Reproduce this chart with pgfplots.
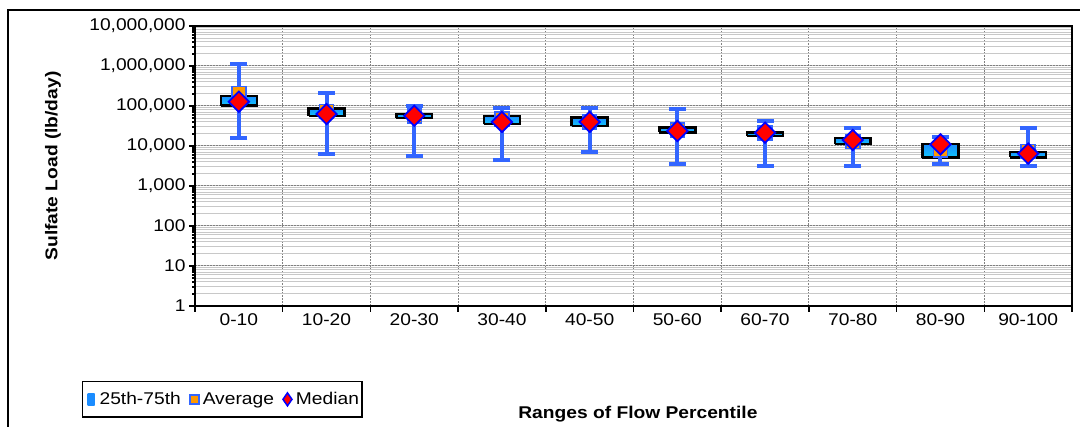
\documentclass[border=0pt]{standalone}
\usepackage{fontspec}
\setmainfont{Liberation Sans}[FakeStretch=1.13]
\usepackage{pgfplots}
\usepackage{pgfplotstable}
\pgfplotsset{compat=1.18}
\definecolor{whisk}{HTML}{3366FF}
\definecolor{boxc}{HTML}{10C8FA}
\definecolor{boxtop}{HTML}{1A8CFF}
\definecolor{avgc}{HTML}{FF9900}
\definecolor{gmaj}{HTML}{808080}
\definecolor{gmin}{HTML}{C8C8C8}

% sulfate load by flow percentile range (lb/day): average and median
\pgfplotstableread{
x  avg    med
1  205000 128000
2  72000  63000
3  57000  57000
4  47000  40000
5  40000  40000
6  25000  23700
7  20900  21500
8  12800  14100
9  7900   11000
10 7200   6460
}\centre

% whiskers: minimum and maximum of each range
\pgfplotstableread{
x  y
1  15800
1  1120000
1  nan
2  6400
2  208000
2  nan
3  5700
3  100000
3  nan
4  4470
4  91000
4  nan
5  7080
5  91000
5  nan
6  3550
6  83000
6  nan
7  3200
7  41000
7  nan
8  3200
8  29000
8  nan
9  3550
9  17000
9  nan
10 3200
10 29000
}\whisk

% boxes: 25th to 75th percentile, six rows each
\pgfplotstableread{
x      y
0.795  102000
1.205  102000
1.205  178000
0.795  178000
0.795  102000
0.795  nan
1.795  57000
2.205  57000
2.205  87000
1.795  87000
1.795  57000
1.795  nan
2.795  50000
3.205  50000
3.205  64000
2.795  64000
2.795  50000
2.795  nan
3.795  35000
4.205  35000
4.205  56000
3.795  56000
3.795  35000
3.795  nan
4.795  31600
5.205  31600
5.205  51000
4.795  51000
4.795  31600
4.795  nan
5.795  22000
6.205  22000
6.205  29000
5.795  29000
5.795  22000
5.795  nan
6.795  17800
7.205  17800
7.205  22000
6.795  22000
6.795  17800
6.795  nan
7.795  11200
8.205  11200
8.205  15800
7.795  15800
7.795  11200
7.795  nan
8.795  5100
9.205  5100
9.205  11200
8.795  11200
8.795  5100
8.795  nan
9.795  5200
10.205 5200
10.205 7080
9.795  7080
9.795  5200
9.795  nan
}\boxes

\newcommand\lbl{\fontsize{17bp}{20bp}\selectfont}

\begin{document}
\begin{tikzpicture}
\path[use as bounding box] (0,0) rectangle (1080bp,427bp);
\draw[line width=2bp] (8bp,-5bp) -- (8bp,417bp) -- (1090bp,417bp);
\begin{axis}[
  at={(195bp,121bp)}, anchor=south west,
  scale only axis, width=877bp, height=280bp,
  ymode=log, ymin=1, ymax=1e7, xmin=0.5, xmax=10.5,
  axis line style={line width=2bp},
  tick pos=left, tick align=outside,
  major tick length=6bp, minor tick length=3bp,
  tick style={black, line width=1.5bp},
  ytick={1,10,100,1000,10000,100000,1000000,10000000},
  yticklabels={1,10,100,{1,000},{10,000},{100,000},{1,000,000},{10,000,000}},
  xtick={0.5,1.5,...,10.5}, xticklabels={},
  extra x ticks={1,...,10},
  extra x tick labels={0-10,10-20,20-30,30-40,40-50,50-60,60-70,70-80,80-90,90-100},
  extra x tick style={major tick length=0pt, grid=none},
  xticklabel style={yshift=-4bp},
  xmajorgrids, ymajorgrids, yminorgrids,
  x grid style={gmaj, line width=1bp, dash pattern=on 2bp off 1bp},
  major y grid style={gmaj, line width=1bp, dash pattern=on 2bp off 1bp},
  minor y grid style={gmin, line width=1bp},
  tick label style={font=\lbl},
  xlabel={\bfseries Ranges of Flow Percentile},
  ylabel={\bfseries Sulfate Load (lb/day)},
  label style={font=\lbl},
  xlabel style={at={(rel axis cs:0.505,-0.386)}, anchor=center},
  ylabel style={at={(rel axis cs:-0.162,0.5)}, anchor=center},
  legend style={at={(rel axis cs:-0.129,-0.4)}, anchor=south west,
    legend columns=3, draw=black, line width=1.5bp, font=\lbl,
    inner xsep=1bp, inner ysep=9bp},
  unbounded coords=jump,
  clip=false,
]
\pgfplotsinvokeforeach{0,...,9}{
  \pgfmathtruncatemacro\ia{6*#1}
  \pgfmathtruncatemacro\ib{6*#1+5}
  \edef\doplot{\noexpand\addplot[forget plot, draw=black, line width=2.5bp,
      line join=miter, mark=none,
      top color=boxtop, middle color=boxc, bottom color=boxc,
      skip coords between index={0}{\ia},
      skip coords between index={\ib}{100}]
    table[x=x, y=y] {\noexpand\boxes};}
  \doplot
}
\addplot[forget plot, only marks, mark=square*, mark size=7bp,
  mark options={fill=avgc, draw=whisk, line width=1.5bp}]
  table[x=x, y=avg] {\centre};
\addplot[forget plot, draw=whisk, line width=4bp, mark=-, mark size=8.5bp,
  mark options={draw=whisk, line width=4bp}]
  table[x=x, y=y] {\whisk};
\addplot[forget plot, only marks, mark=square*, mark size=7.2bp,
  mark options={rotate=45, fill=red, draw=blue, line width=1.8bp}]
  table[x=x, y=med] {\centre};

\addlegendimage{legend image code/.code={
  \path[draw=none, fill=none] (-3bp,0bp) -- (11bp,0bp);
  \shade[draw=none, top color=boxtop, middle color=boxc, bottom color=boxtop]
    (1bp,-6bp) rectangle (8bp,6bp);}}
\addlegendentry{25th-75th}
\addlegendimage{legend image code/.code={
  \path[draw=none, fill=none] (-7bp,0bp) -- (11bp,0bp);
  \draw[draw=whisk, fill=avgc, line width=1.5bp] (0bp,-4.5bp) rectangle (9bp,4.5bp);}}
\addlegendentry{Average}
\addlegendimage{legend image code/.code={
  \path[draw=none, fill=none] (-7bp,0bp) -- (11bp,0bp);
  \draw[draw=blue, fill=red, line width=1.5bp]
    (4.5bp,-6.5bp) -- (9bp,0bp) -- (4.5bp,6.5bp) -- (0bp,0bp) -- cycle;}}
\addlegendentry{Median}
\end{axis}
\end{tikzpicture}
\end{document}
